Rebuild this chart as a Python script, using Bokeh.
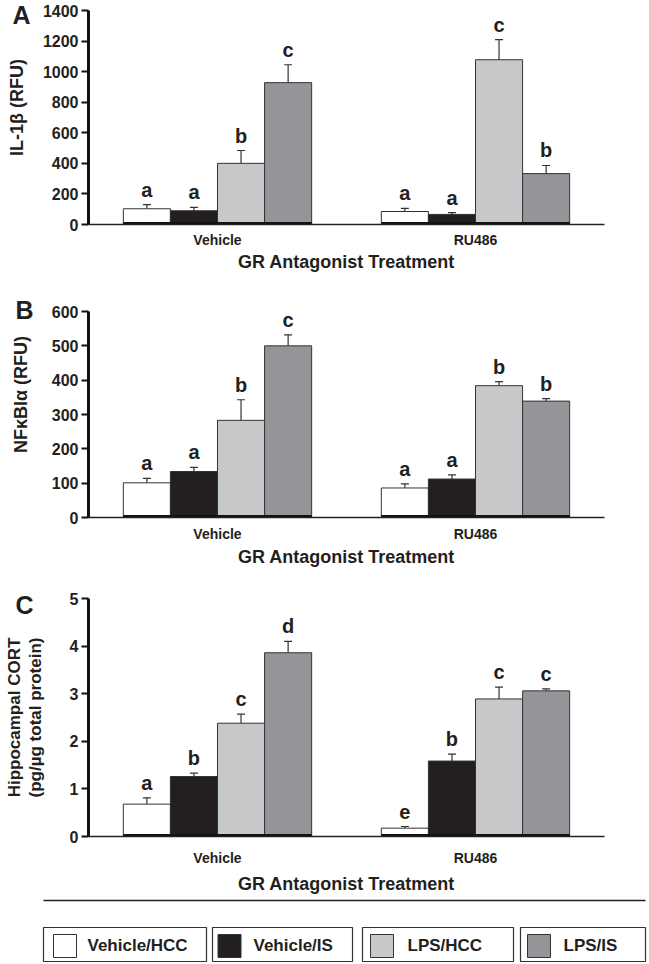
import math
from bokeh.plotting import figure
from bokeh.models import (FactorRange, Range1d, ColumnDataSource, Whisker, TeeHead,
                          Label, FixedTicker)
from bokeh.transform import dodge
from bokeh.layouts import column
from bokeh.embed import file_html
from bokeh.resources import INLINE
from bokeh.core.properties import value

# ---------------- data ----------------
groups = ["Vehicle", "RU486"]
conditions = ["Vehicle/HCC", "Vehicle/IS", "LPS/HCC", "LPS/IS"]
colors = ["#ffffff", "#231f20", "#c7c8ca", "#939598"]

# rows = conditions, columns = groups (Vehicle, RU486)
il1b_mean = [[103, 85], [90, 66], [400, 1078], [928, 333]]
il1b_upper = [[130, 105], [112, 78], [484, 1209], [1045, 386]]
il1b_letters = [["a", "a"], ["a", "a"], ["b", "c"], ["c", "b"]]
il1b_ticks = [0, 200, 400, 600, 800, 1000, 1200, 1400]

nfkb_mean = [[101, 86], [134, 112], [283, 384], [500, 339]]
nfkb_upper = [[114, 98], [146, 124], [343, 396], [532, 346]]
nfkb_letters = [["a", "a"], ["a", "a"], ["b", "b"], ["c", "b"]]
nfkb_ticks = [0, 100, 200, 300, 400, 500, 600]

cort_mean = [[0.68, 0.175], [1.26, 1.585], [2.38, 2.89], [3.86, 3.06]]
cort_upper = [[0.81, 0.21], [1.33, 1.73], [2.57, 3.14], [4.10, 3.10]]
cort_letters = [["a", "e"], ["b", "b"], ["c", "c"], ["d", "c"]]
cort_ticks = [0, 1, 2, 3, 4, 5]

# ---------------- style / layout ----------------
FONT = "Liberation Sans"
OUTLINE = "#333333"
TXT = "#231f20"
BAR_W = 0.1825
X_TITLE = "GR Antagonist Treatment"
BORDER_L, FRAME_W, BORDER_R = 88, 516, 45
PX_PER_UNIT = FRAME_W / len(groups)


def make_panel(mean, upper, letters, ticks, panel_letter, letter_px, ytitle, ytitle_px,
               height, border_top, border_bottom, tick_standoff, title_standoff,
               multiline_ytitle=None):
    p = figure(width=BORDER_L + FRAME_W + BORDER_R, height=height,
               x_range=FactorRange(*groups, range_padding=0),
               y_range=Range1d(ticks[0], ticks[-1]), output_backend="svg",
               toolbar_location=None, min_border_left=BORDER_L, min_border_right=BORDER_R,
               min_border_top=border_top, min_border_bottom=border_bottom)
    p.outline_line_color = None
    p.grid.visible = False
    frame_h = height - border_top - border_bottom
    ymax = ticks[-1]

    def to_data(px_from_left, px_from_bottom):
        return px_from_left / PX_PER_UNIT, px_from_bottom / frame_h * ymax

    for i, cond in enumerate(conditions):
        src = ColumnDataSource(dict(grp=groups, mean=mean[i], upper=upper[i], letter=letters[i]))
        off = (i - 1.5) * BAR_W
        xs = dodge("grp", off, range=p.x_range)
        p.vbar(x=xs, top="mean", bottom=0, width=BAR_W, fill_color=colors[i],
               line_color=OUTLINE, line_width=1, source=src)
        p.add_layout(Whisker(source=src, base=xs, lower="mean", upper="upper",
                             dimension="height", line_color=OUTLINE, line_width=1.2,
                             upper_head=TeeHead(size=8, line_color=OUTLINE, line_width=1.2),
                             lower_head=None))
        p.text(x=xs, y="upper", text="letter", source=src, text_align="center",
               text_baseline="alphabetic", y_offset=-15, text_font=value(FONT),
               text_font_style="bold", text_font_size="20px", text_color=TXT)

    base_src = ColumnDataSource(dict(grp=groups))
    p.rect(x="grp", y=0, width=4 * BAR_W, height=5, height_units="screen",
           fill_color="#111111", line_color=None, source=base_src)

    # y axis
    p.yaxis.ticker = FixedTicker(ticks=ticks)
    p.yaxis.axis_line_width = 3
    p.yaxis.axis_line_color = "#111111"
    p.yaxis.major_tick_line_width = 2
    p.yaxis.major_tick_line_color = "#111111"
    p.yaxis.major_tick_out = 7
    p.yaxis.major_tick_in = 0
    p.yaxis.minor_tick_out = 0
    p.yaxis.minor_tick_in = 0
    p.yaxis.major_label_standoff = 3
    p.yaxis.major_label_text_font = FONT
    p.yaxis.major_label_text_font_style = "bold"
    p.yaxis.major_label_text_font_size = "16px"
    p.yaxis.major_label_text_color = TXT
    if multiline_ytitle is not None:
        p.yaxis.axis_label = multiline_ytitle
        p.yaxis.axis_label_standoff = 22
        p.yaxis.axis_label_text_font = FONT
        p.yaxis.axis_label_text_font_style = "bold"
        p.yaxis.axis_label_text_font_size = "17px"
        p.yaxis.axis_label_text_color = TXT
        p.yaxis.axis_label_text_line_height = 1.1

    # x axis
    p.xaxis.axis_line_width = 1.5
    p.xaxis.axis_line_color = "#222222"
    p.xaxis.major_tick_out = 0
    p.xaxis.major_tick_in = 0
    p.xaxis.major_label_standoff = tick_standoff
    p.xaxis.major_label_text_font = FONT
    p.xaxis.major_label_text_font_style = "bold"
    p.xaxis.major_label_text_font_size = "14px"
    p.xaxis.major_label_text_color = TXT
    p.xaxis.axis_label = X_TITLE
    p.xaxis.axis_label_standoff = title_standoff
    p.xaxis.axis_label_text_font = FONT
    p.xaxis.axis_label_text_font_style = "bold"
    p.xaxis.axis_label_text_font_size = "18px"
    p.xaxis.axis_label_text_color = TXT

    # panel letter and y title as labels placed by data coordinates (side panel -> not clipped)
    lx, ly = to_data(*letter_px)
    p.add_layout(Label(x=lx, y=ly, text=panel_letter, text_align="left",
                       text_baseline="middle", text_font=FONT, text_font_style="bold",
                       text_font_size="25px", text_color=TXT), "right")
    if ytitle is not None:
        tx, ty = to_data(*ytitle_px)
        p.add_layout(Label(x=tx, y=ty, text=ytitle, angle=math.pi / 2, text_align="center",
                           text_baseline="middle", text_font=FONT, text_font_style="bold",
                           text_font_size="18px", text_color=TXT), "right")
    return p


# offsets in pixels relative to the frame's bottom-left corner
pA = make_panel(il1b_mean, il1b_upper, il1b_letters, il1b_ticks, "A", (-76, 209.5),
                "IL-1β (RFU)", (-71.5, 117),
                height=282, border_top=10, border_bottom=58, tick_standoff=7, title_standoff=1)
pB = make_panel(nfkb_mean, nfkb_upper, nfkb_letters, nfkb_ticks, "B", (-73, 207.5),
                "NFκBIα (RFU)", (-68, 123),
                height=290, border_top=29, border_bottom=55, tick_standoff=8, title_standoff=2)
pC = make_panel(cort_mean, cort_upper, cort_letters, cort_ticks, "C", (-73, 231.5),
                None, None,
                height=325, border_top=26, border_bottom=61, tick_standoff=13, title_standoff=5,
                multiline_ytitle="Hippocampal CORT\n(pg/µg total protein)")

# ---------------- legend ----------------
leg_box_left = [43, 212, 362, 520]
leg_box_right = [206, 352, 513, 645]
leg_swatch_x = [64.5, 229, 381.5, 538.5]
leg_text_x = [87, 253, 407, 563]

leg = figure(width=649, height=67, x_range=Range1d(0, 649), y_range=Range1d(0, 67),
             output_backend="svg", toolbar_location=None, min_border=0,
             min_border_left=0, min_border_right=0, min_border_top=0, min_border_bottom=0,
             x_axis_location=None, y_axis_location=None)
if "frame_align" in leg.properties():
    leg.frame_align = False
leg.outline_line_color = None
leg.grid.visible = False
leg.segment(x0=[43], y0=[64], x1=[645], y1=[64], line_color="#222222", line_width=1.5)
leg.quad(left=leg_box_left, right=leg_box_right, bottom=3, top=37, fill_color=None,
         line_color="#333333", line_width=1.2)
leg.rect(x=leg_swatch_x, y=18.5, width=23, height=23, fill_color=colors,
         line_color="#333333", line_width=1)
leg.text(x=leg_text_x, y=19, text=conditions, text_align="left", text_baseline="middle",
         text_font=value(FONT), text_font_style="bold", text_font_size="17px",
         text_color=TXT)

layout = column(pA, pB, pC, leg)
open("out.html", "w").write(file_html(layout, INLINE))
